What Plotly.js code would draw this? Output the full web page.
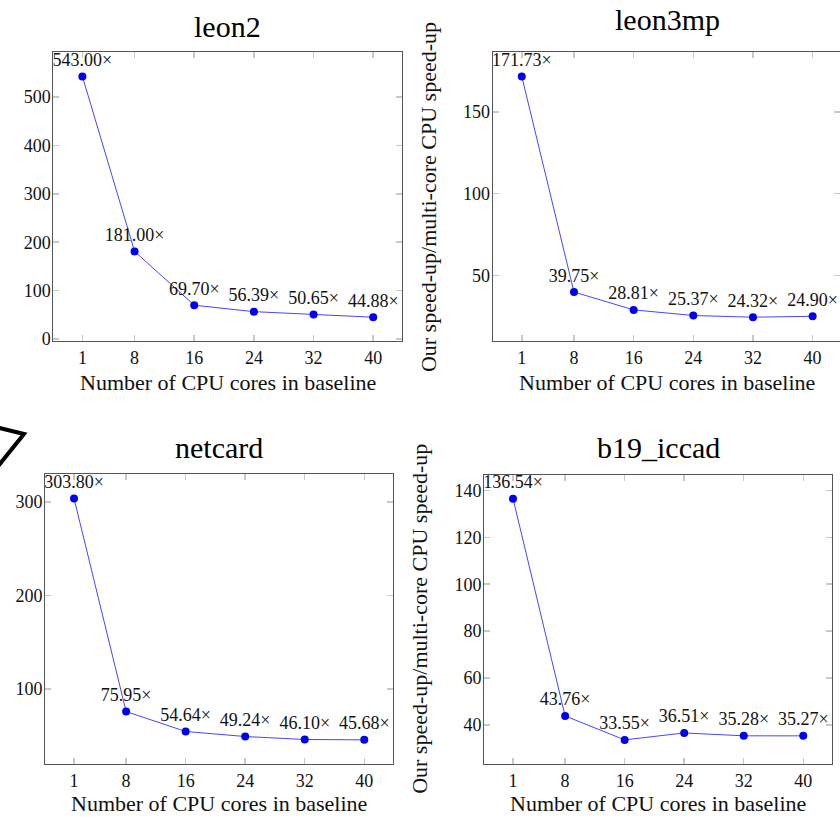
<!DOCTYPE html>
<html>
<head>
<meta charset="utf-8">
<script src="https://cdn.plot.ly/plotly-3.0.1.min.js"></script>
<style>html,body{margin:0;padding:0;background:#fff;}#chart{width:840px;height:817px;}</style>
</head>
<body>
<div id="chart"></div>
<script>
// ---- data ----
const cores = [1, 8, 16, 24, 32, 40];
const leon2 = [543.00, 181.00, 69.70, 56.39, 50.65, 44.88];
const leon3mp = [171.73, 39.75, 28.81, 25.37, 24.32, 24.90];
const netcard = [303.80, 75.95, 54.64, 49.24, 46.10, 45.68];
const b19_iccad = [136.54, 43.76, 33.55, 36.51, 35.28, 35.27];
const panelTitles = ['leon2', 'leon3mp', 'netcard', 'b19_iccad'];
const xTitle = 'Number of CPU cores in baseline';
const yTitle = 'Our speed-up/multi-core CPU speed-up';

// ---- layout geometry (pixels) ----
const W = 840, H = 817;
const FONT = 'Liberation Serif, Times New Roman, serif';
const panels = [
  {data: leon2,     x: [53.3, 402.3],  y: [52.3, 341.3],  dtick: 100, tick0: 0,  titleY: 26,  xtY: 382, ytX: null},
  {data: leon3mp,   x: [492.7, 841.7], y: [52.3, 341.3],  dtick: 50,  tick0: 0,  titleY: 20,  xtY: 382, ytX: 428.3},
  {data: netcard,   x: [45.0, 393.3],  y: [474.3, 764.0], dtick: 100, tick0: 0,  titleY: 448, xtY: 803, ytX: null},
  {data: b19_iccad, x: [484.0, 832.3], y: [474.5, 764.0], dtick: 20,  tick0: 0,  titleY: 448, xtY: 803, ytX: 419.6}
];

function enlarge(arr) {
  const mn = Math.min(...arr), mx = Math.max(...arr), d = (mx - mn) * 0.1;
  return [mn - d, mx + d];
}
const xFull = enlarge(cores);

const traces = [];
const layout = {
  width: W, height: H,
  margin: {l: 0, r: 0, t: 0, b: 0},
  paper_bgcolor: '#fff', plot_bgcolor: '#fff',
  showlegend: false,
  font: {family: FONT, color: '#111', size: 18},
  annotations: [],
  shapes: [{
    type: 'path', xref: 'paper', yref: 'paper',
    path: 'M -0.01,' + (1 - 426/H) + ' L ' + (24/W) + ',' + (1 - 434/H) + ' L -0.006,' + (1 - 470/H),
    line: {color: '#000', width: 4}
  }]
};

panels.forEach((p, i) => {
  const n = i + 1;
  const xa = n === 1 ? 'xaxis' : 'xaxis' + n;
  const ya = n === 1 ? 'yaxis' : 'yaxis' + n;
  let x0 = p.x[0], x1 = p.x[1];
  let xr = xFull.slice();
  if (x1 > W) {
    xr[1] = xFull[0] + (W - x0) * (xFull[1] - xFull[0]) / (x1 - x0);
    x1 = W;
  }
  traces.push({
    type: 'scatter', mode: 'lines+markers+text',
    x: cores, y: p.data,
    xaxis: 'x' + (n === 1 ? '' : n), yaxis: 'y' + (n === 1 ? '' : n),
    line: {color: 'rgb(70,70,255)', width: 1},
    marker: {color: '#0000f0', size: 8},
    text: p.data.map(v => v.toFixed(2) + '\u00d7'),
    textposition: 'top center',
    textfont: {family: FONT, size: 18, color: '#111'},
    cliponaxis: true,
    hoverinfo: 'skip'
  });
  const common = {
    showgrid: false, zeroline: false, showline: true, mirror: 'ticks',
    linecolor: '#555', linewidth: 1,
    ticks: 'inside', ticklen: 6, tickwidth: 1.5, tickcolor: '#c8c8c8',
    tickfont: {family: FONT, size: 18, color: '#111'}
  };
  layout[xa] = Object.assign({}, common, {
    domain: [x0 / W, x1 / W], range: xr,
    tickmode: 'array', tickvals: cores, ticktext: cores.map(String),
    anchor: 'y' + (n === 1 ? '' : n)
  });
  layout[ya] = Object.assign({}, common, {
    domain: [1 - p.y[1] / H, 1 - p.y[0] / H], range: enlarge(p.data),
    tickmode: 'linear', tick0: p.tick0, dtick: p.dtick,
    ticklabelstandoff: -2,
    anchor: 'x' + (n === 1 ? '' : n)
  });
  const cx = (p.x[0] + p.x[1]) / 2 / W;
  layout.annotations.push({
    xref: 'paper', yref: 'paper', x: cx, y: 1 - p.titleY / H,
    xanchor: 'center', yanchor: 'middle', showarrow: false,
    text: panelTitles[i], font: {family: FONT, size: 30, color: '#000'}
  });
  layout.annotations.push({
    xref: 'paper', yref: 'paper', x: cx, y: 1 - p.xtY / H,
    xanchor: 'center', yanchor: 'middle', showarrow: false,
    text: xTitle, font: {family: FONT, size: 22, color: '#111'}
  });
  if (p.ytX !== null) {
    layout.annotations.push({
      xref: 'paper', yref: 'paper', x: p.ytX / W, y: 1 - (p.y[0] + p.y[1]) / 2 / H,
      xanchor: 'center', yanchor: 'middle', showarrow: false, textangle: -90,
      text: yTitle, font: {family: FONT, size: 22, color: '#111'}
    });
  }
});

Plotly.newPlot('chart', traces, layout, {displayModeBar: false, staticPlot: true});
</script>
</body>
</html>
